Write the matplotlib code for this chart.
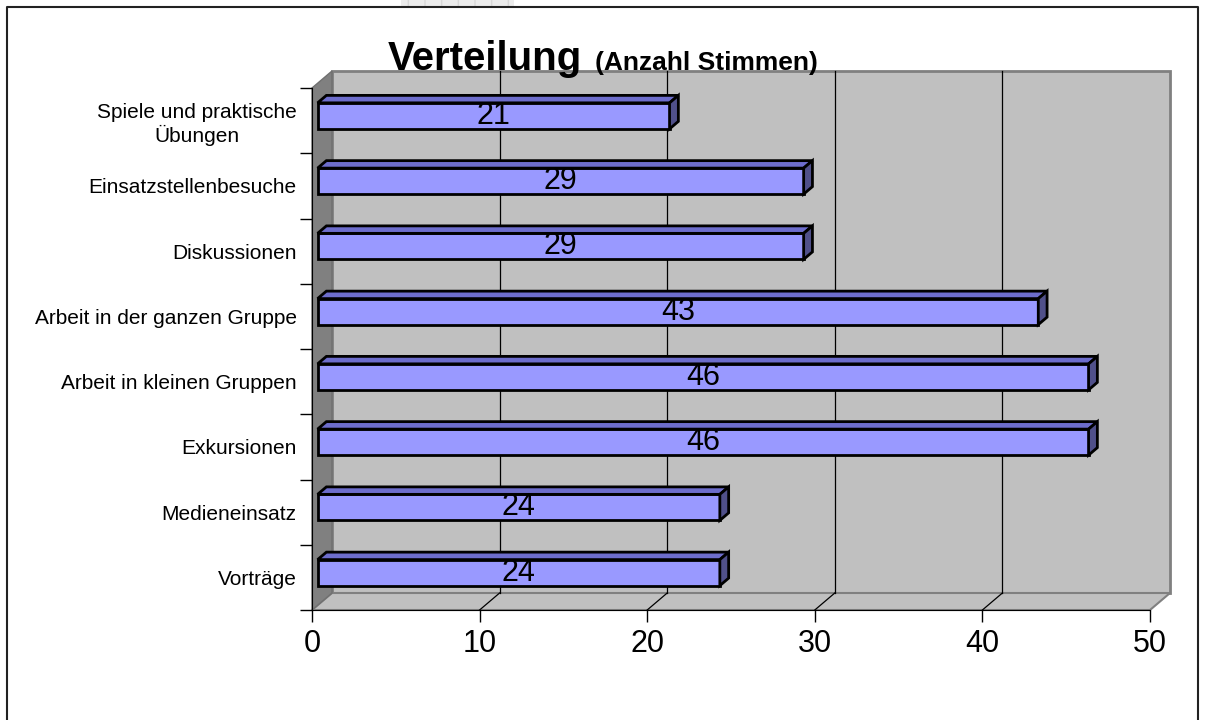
import matplotlib
matplotlib.use("Agg")
import matplotlib.pyplot as plt
from matplotlib.patches import Polygon, Rectangle

# Data (bottom to top)
categories = ["Vorträge", "Medieneinsatz", "Exkursionen", "Arbeit in kleinen Gruppen",
              "Arbeit in der ganzen Gruppe", "Diskussionen", "Einsatzstellenbesuche",
              "Spiele und praktische\nÜbungen"]
votes = [24, 24, 46, 46, 43, 29, 29, 21]
x_ticks = [0, 10, 20, 30, 40, 50]

plt.rcParams['font.family'] = ['Liberation Sans', 'DejaVu Sans']

W, H = 1205, 720
fig = plt.figure(figsize=(W / 100, H / 100), dpi=100)

# axes = front plane of the 3D box
left_px, right_px, bottom_px, top_px = 312, 1150, 610, 88
ax = fig.add_axes([left_px / W, (H - bottom_px) / H,
                   (right_px - left_px) / W, (bottom_px - top_px) / H])
ax.set_xlim(0, 50)
ax.set_ylim(0, len(categories))
ax.set_facecolor("none")

# depth of the box in data units
px_x = 50 / (right_px - left_px)
px_y = len(categories) / (bottom_px - top_px)
DX = 20 * px_x
DY = 17 * px_y
ymax = len(categories)

WALL = "#c0c0c0"
EDGE = "#808080"

# back wall
ax.add_patch(Polygon([(DX, DY), (50 + DX, DY), (50 + DX, ymax + DY), (DX, ymax + DY)],
                     closed=True, fc=WALL, ec=EDGE, lw=2, clip_on=False, zorder=1))
# floor
ax.add_patch(Polygon([(0, 0), (50, 0), (50 + DX, DY), (DX, DY)],
                     closed=True, fc=WALL, ec=EDGE, lw=1.5, clip_on=False, zorder=1))
# left wall
ax.add_patch(Polygon([(0, 0), (DX, DY), (DX, ymax + DY), (0, ymax)],
                     closed=True, fc="#808080", ec="#707070", lw=1, clip_on=False, zorder=1))

# gridlines on back wall and floor
for t in x_ticks[1:-1]:
    ax.plot([t + DX, t + DX], [DY, ymax + DY], color="black", lw=0.9, zorder=2, clip_on=False)
    ax.plot([t, t + DX], [0, DY], color="black", lw=0.9, zorder=2, clip_on=False)

# 3D bars
f0, f1 = 0.28, 0.72
half = 13 * px_y
ddx = (f1 - f0) * DX
ddy = (f1 - f0) * DY
for i, v in enumerate(votes):
    x0 = f0 * DX
    x1 = v + f0 * DX
    yc = i + 0.5 + f0 * DY
    yb, yt = yc - half, yc + half
    ax.add_patch(Rectangle((x0, yb), x1 - x0, yt - yb, fc="#9999ff", ec="black",
                           lw=2, zorder=5, clip_on=False))
    ax.add_patch(Polygon([(x0, yt), (x1, yt), (x1 + ddx, yt + ddy), (x0 + ddx, yt + ddy)],
                         closed=True, fc="#6d6dcc", ec="black", lw=2, zorder=5, clip_on=False))
    ax.add_patch(Polygon([(x1, yb), (x1 + ddx, yb + ddy), (x1 + ddx, yt + ddy), (x1, yt)],
                         closed=True, fc="#50508a", ec="black", lw=2, zorder=5, clip_on=False))
    ax.text((x0 + x1) / 2, yc, str(v), ha="center", va="center", fontsize=22,
            color="black", zorder=6)

# axes styling
for s in ["top", "right"]:
    ax.spines[s].set_visible(False)
ax.spines["left"].set_color("black")
ax.spines["bottom"].set_color("black")
ax.spines["left"].set_zorder(3)
ax.spines["bottom"].set_zorder(3)

ax.set_xticks(x_ticks)
ax.set_xticklabels([str(t) for t in x_ticks], fontsize=22)
ax.tick_params(axis="x", direction="out", length=8.5, width=1, pad=5)

ax.set_yticks(range(len(categories) + 1))
ax.set_yticklabels([])
ax.tick_params(axis="y", which="major", direction="out", length=8.6, width=1)
ax.set_yticks([i + 0.5 for i in range(len(categories))], minor=True)
ax.set_yticklabels(categories, minor=True, fontsize=15)
ax.tick_params(axis="y", which="minor", length=0, pad=11)
for lab in ax.get_yticklabels(minor=True):
    lab.set_multialignment("center")

# title
fig.text(388 / W, 1 - 70 / H, "Verteilung", fontsize=29, fontweight="bold",
         ha="left", va="baseline")
fig.text(595 / W, 1 - 70 / H, "(Anzahl Stimmen)", fontsize=19, fontweight="bold",
         ha="left", va="baseline")

# outer frame (bottom edge cut off)
fig.add_artist(plt.Line2D([7 / W, 7 / W, 1198 / W, 1198 / W], [0, 1 - 7 / H, 1 - 7 / H, 0],
                          transform=fig.transFigure, color="#222222", lw=1.5))
# small grey strip at the top edge
fig.add_artist(Rectangle((401 / W, 1 - 6 / H), 113 / W, 6 / H, transform=fig.transFigure,
                         fc="#ececec", ec="#d8d8d8", hatch="+", lw=0))

fig.savefig("out.png", dpi=100)
